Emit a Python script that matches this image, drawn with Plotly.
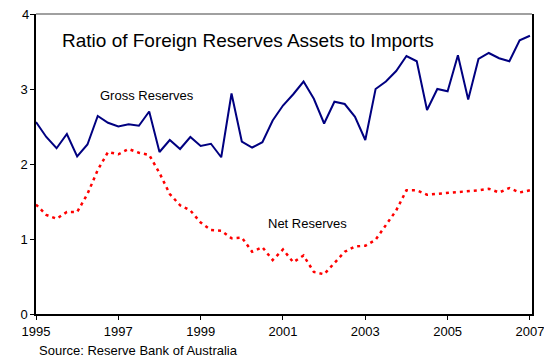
import plotly.graph_objects as go

years = [1995 + 0.25 * i for i in range(49)]
gross = [2.56, 2.36, 2.21, 2.40, 2.10, 2.26, 2.64, 2.55, 2.50, 2.53, 2.51, 2.70,
         2.16, 2.32, 2.20, 2.36, 2.24, 2.27, 2.09, 2.94, 2.30, 2.22, 2.29, 2.58,
         2.78, 2.93, 3.10, 2.87, 2.54, 2.83, 2.80, 2.63, 2.32, 3.00, 3.10, 3.24,
         3.44, 3.37, 2.72, 3.00, 2.97, 3.45, 2.86, 3.40, 3.48, 3.41, 3.37, 3.65, 3.71]
net = [1.46, 1.32, 1.27, 1.36, 1.36, 1.60, 1.92, 2.16, 2.13, 2.20, 2.15, 2.12,
       1.88, 1.60, 1.45, 1.38, 1.22, 1.12, 1.11, 1.01, 1.02, 0.83, 0.89, 0.72,
       0.86, 0.69, 0.78, 0.56, 0.53, 0.68, 0.83, 0.90, 0.91, 0.99, 1.18, 1.38,
       1.65, 1.65, 1.59, 1.60, 1.62, 1.63, 1.64, 1.65, 1.67, 1.62, 1.68, 1.62, 1.65]
x_ticks = [1995, 1997, 1999, 2001, 2003, 2005, 2007]
y_ticks = [0, 1, 2, 3, 4]
y_ticktext = ["0", "1", "2", "3", ""]  # top label "4" drawn as annotation to avoid edge clipping

fig = go.Figure()
fig.add_trace(go.Scatter(x=years, y=gross, mode="lines", name="Gross Reserves",
                         line=dict(color="#000080", width=2)))
fig.add_trace(go.Scatter(x=years, y=net, mode="lines", name="Net Reserves",
                         line=dict(color="#ff0000", width=2.5, dash="3px,4px")))

font = "Liberation Sans, Arial, sans-serif"
fig.update_layout(
    width=544, height=352,
    margin=dict(l=28, r=20, t=6, b=46),
    paper_bgcolor="white", plot_bgcolor="white",
    showlegend=False,
    font=dict(family=font, size=13, color="black"),
    xaxis=dict(range=[1995, 2007.05], tickvals=x_ticks, ticktext=[str(v) for v in x_ticks],
               showgrid=False, zeroline=False, showline=True, linecolor="black", linewidth=2,
               ticks="outside", ticklen=4, tickcolor="black", tickfont=dict(size=13)),
    yaxis=dict(range=[0, 4], tickvals=y_ticks, ticktext=y_ticktext, showgrid=False,
               zeroline=False, showline=True, linecolor="black", linewidth=1.5, mirror=True,
               ticks="outside", ticklen=4, tickcolor="black", tickfont=dict(size=13)),
    shapes=[dict(type="line", xref="paper", yref="paper", x0=0, x1=1, y0=1, y1=1,
                 line=dict(color="#808080", width=1.5))],
    annotations=[
        dict(text=str(y_ticks[-1]), xref="paper", yref="y", x=0, y=y_ticks[-1],
             xanchor="right", yanchor="middle", xshift=-5, showarrow=False,
             font=dict(size=13)),
        dict(text="Ratio of Foreign Reserves Assets to Imports", xref="paper", yref="paper",
             x=0.048, y=0.913, xanchor="left", yanchor="middle", showarrow=False,
             font=dict(size=19)),
        dict(text="Gross Reserves", xref="x", yref="y", x=1996.5, y=2.92,
             xanchor="left", yanchor="middle", showarrow=False, font=dict(size=13)),
        dict(text="Net Reserves", xref="x", yref="y", x=2000.59, y=1.21,
             xanchor="left", yanchor="middle", showarrow=False, font=dict(size=13)),
        dict(text="Source: Reserve Bank of Australia", xref="paper", yref="paper",
             x=0.002, y=-0.12, xanchor="left", yanchor="middle", showarrow=False,
             font=dict(size=13)),
    ],
)
fig.write_html("out.html")
